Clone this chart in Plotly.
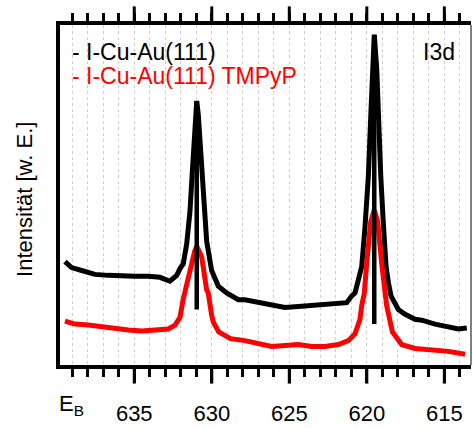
import plotly.graph_objects as go

# ---- data (binding energy in eV, intensity in arb. units) ----
black_eV = [639.47, 639.04, 638.39, 637.54, 636.68, 635.81, 634.95, 634.10, 633.34, 632.70,
            632.26, 632.05, 631.84, 631.62, 631.41, 631.26, 631.13, 631.02, 630.97, 630.87,
            630.72, 630.55, 630.33, 630.01, 629.58, 629.04, 628.29, 627.86, 627.00, 626.14,
            625.28, 624.42, 623.55, 622.70, 621.84, 621.30, 620.97, 620.76, 620.55, 620.33,
            620.12, 619.90, 619.75, 619.65, 619.52, 619.36, 619.26, 619.10, 618.94, 618.76,
            618.60, 618.44, 617.97, 617.53, 616.89, 616.46, 615.60, 614.74, 614.10, 613.55]
black_I = [107, 101, 98, 94, 93, 92, 92, 92, 91, 87,
           93, 100, 105, 125, 158, 198, 235, 265, 272, 258,
           218, 168, 128, 98, 82, 75, 68, 68, 65, 62,
           60, 61, 62, 63, 65, 65, 72, 75, 88, 102,
           142, 195, 255, 305, 340, 305, 255, 195, 148, 102,
           85, 72, 58, 53, 48, 47, 43, 40, 38, 39]

red_eV = [639.47, 638.83, 637.97, 637.10, 636.25, 635.39, 634.52, 633.66, 632.81, 632.37,
          632.05, 631.85, 631.55, 631.30, 631.10, 630.97, 630.65, 630.33, 630.23, 630.01,
          629.90, 629.55, 628.80, 627.86, 627.00, 626.14, 625.28, 624.42, 623.55, 622.70,
          621.84, 621.19, 620.76, 620.65, 620.44, 620.33, 620.16, 620.01, 619.75, 619.52,
          619.30, 619.04, 618.72, 618.35, 617.75, 616.89, 615.81, 614.74, 613.66]
red_I = [46, 43, 42, 40, 38, 37, 36, 37, 38, 42,
         50, 68, 90, 108, 118, 123, 112, 78, 75, 52,
         45, 35, 28, 26, 23, 20, 21, 22, 20, 20,
         22, 26, 33, 38, 48, 62, 75, 105, 148, 160,
         148, 105, 62, 35, 22, 18, 17, 15, 12]

# peak position markers (sticks)
stick_eV = [630.97, 619.52]
stick_top = [272, 340]
stick_bottom = [58, 43]

x_ticks = [635, 630, 625, 620, 615]
x_tick_text = ["635", "630", "625", "620", "615"]

series_names = ["- I-Cu-Au(111)", "- I-Cu-Au(111) TMPyP"]
panel_label = "I3d"
y_title = "Intensität [w. E.]"

FONT = "Liberation Sans, Arial, Helvetica, sans-serif"
X_RANGE = [639.79, 613.28]
PLOT_H = 428 - 25 - 54      # plot area height in px
MAJOR_LEN = 17              # major tick length in px

fig = go.Figure()
fig.add_trace(go.Scatter(x=black_eV, y=black_I, mode="lines",
                         line=dict(color="#000000", width=5), showlegend=False))
fig.add_trace(go.Scatter(x=red_eV, y=red_I, mode="lines",
                         line=dict(color="#ff0000", width=5), showlegend=False))

sx, sy = [], []
for e, t, b in zip(stick_eV, stick_top, stick_bottom):
    sx += [e, e, None]
    sy += [b, t, None]
fig.add_trace(go.Scatter(x=sx, y=sy, mode="lines",
                         line=dict(color="#000000", width=4.5), showlegend=False))
# invisible traces to activate the overlay axes
for ax in ["x2", "x3"]:
    fig.add_trace(go.Scatter(x=[x_ticks[0]], y=[None], xaxis=ax, mode="lines",
                             showlegend=False, hoverinfo="skip"))

fig.update_layout(
    width=473, height=428,
    margin=dict(l=60, r=2, t=25, b=54),
    paper_bgcolor="white", plot_bgcolor="white",
    font=dict(family=FONT, size=22, color="black"),
    showlegend=False,
)

minor_ticks = dict(range=X_RANGE, tickmode="linear", tick0=x_ticks[-1], dtick=1,
                   ticks="outside", ticklen=8, tickwidth=3, tickcolor="#000000",
                   showticklabels=False, zeroline=False)

fig.update_layout(
    # bottom: frame line, 1 eV ticks and dotted grid
    xaxis=dict(**minor_ticks,
               showline=True, linewidth=3.5, linecolor="#000000",
               showgrid=True, gridcolor="#cfcfcf", gridwidth=1, griddash="dot"),
    # top: frame line and 1 eV ticks
    xaxis2=dict(**minor_ticks, overlaying="x", side="top", anchor="y",
                showline=True, linewidth=3.5, linecolor="#000000", showgrid=False),
    # bottom: major tick labels
    xaxis3=dict(range=X_RANGE, tickmode="array", tickvals=x_ticks, ticktext=x_tick_text,
                ticks="outside", ticklen=MAJOR_LEN, tickwidth=3, tickcolor="#000000",
                zeroline=False, showgrid=False, showline=False,
                overlaying="x", side="bottom", anchor="y",
                showticklabels=True, tickfont=dict(size=22, family=FONT, color="#000000"),
                ticklabelstandoff=12),
    yaxis=dict(
        range=[1, 350],
        showticklabels=False, ticks="", showgrid=False, zeroline=False,
        showline=True, linewidth=3.5, linecolor="#000000", mirror=False,
    ),
)

# long major tick marks on bottom and top frame (positions from x_ticks)
tick_h = MAJOR_LEN / PLOT_H
for t in x_ticks:
    px = (t - X_RANGE[0]) / (X_RANGE[1] - X_RANGE[0])
    fig.add_shape(type="line", xref="paper", yref="paper", x0=px, x1=px,
                  y0=0, y1=-tick_h - 0.006, line=dict(color="#000000", width=3))
    fig.add_shape(type="line", xref="paper", yref="paper", x0=px, x1=px,
                  y0=1, y1=1 + tick_h + 0.006, line=dict(color="#000000", width=3))

# thin right frame line
fig.add_shape(type="line", xref="paper", yref="paper", x0=1, x1=1, y0=0, y1=1,
              line=dict(color="black", width=1))

fig.add_annotation(xref="paper", yref="paper", x=0.0255, y=0.9206,
                   xanchor="left", yanchor="middle", showarrow=False,
                   text=series_names[0], font=dict(size=23, color="#000000", family=FONT))
fig.add_annotation(xref="paper", yref="paper", x=0.0255, y=0.8496,
                   xanchor="left", yanchor="middle", showarrow=False,
                   text=series_names[1], font=dict(size=23, color="#ff0000", family=FONT))
fig.add_annotation(xref="paper", yref="paper", x=0.967, y=0.9206,
                   xanchor="right", yanchor="middle", showarrow=False,
                   text=panel_label, font=dict(size=23, color="#000000", family=FONT))
fig.add_annotation(xref="paper", yref="paper", x=-0.0852, y=0.4885,
                   xanchor="center", yanchor="middle", showarrow=False, textangle=-90,
                   text=y_title, font=dict(size=22, color="#000000", family=FONT))
fig.add_annotation(xref="paper", yref="paper", x=-0.0073, y=-0.118,
                   xanchor="left", yanchor="middle", showarrow=False,
                   text="E<sub>B</sub>", font=dict(size=22, color="#000000", family=FONT))

fig.write_html("out.html", config={"displayModeBar": False},
               post_script="document.body.style.margin='0';")
